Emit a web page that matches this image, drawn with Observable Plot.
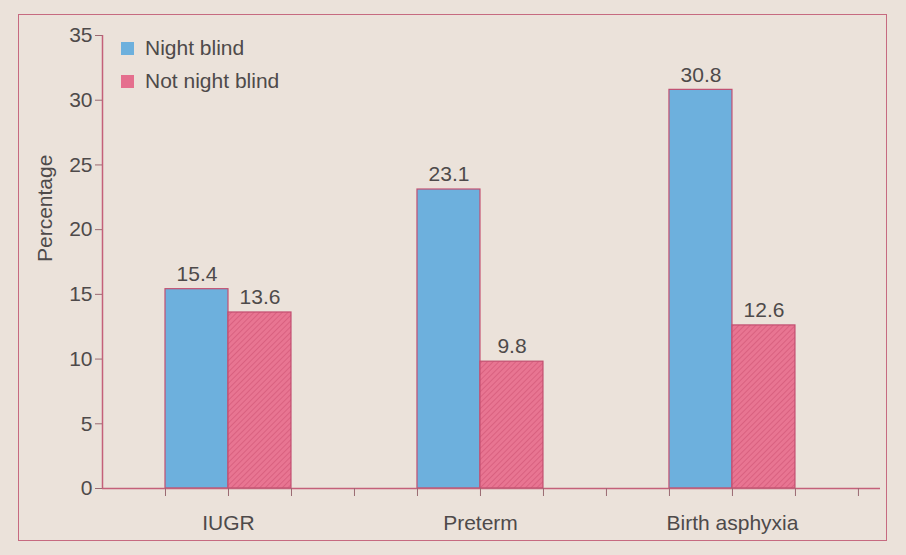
<!DOCTYPE html>
<html><head><meta charset="utf-8">
<script src="https://cdn.jsdelivr.net/npm/d3@7"></script>
<script src="https://cdn.jsdelivr.net/npm/@observablehq/plot@0.6"></script>
<style>
body{margin:0;background:#ebe2da;font-family:"Liberation Sans",Arial,sans-serif;}
#wrap{position:relative;width:906px;height:555px;overflow:hidden;}
#frame{position:absolute;left:18px;top:14px;width:869px;height:527px;border:1.5px solid #c66a80;box-sizing:border-box;pointer-events:none;}
#legend{position:absolute;left:121px;top:31px;font-size:21px;color:#4e4a4a;line-height:33px;}
#legend .sw{display:inline-block;width:13px;height:13px;margin-right:11px;vertical-align:0px;}
svg{position:absolute;left:0;top:0;background:transparent;}
</style></head>
<body><div id="wrap"><div id="frame"></div></div>
<script>
const categories = ["IUGR", "Preterm", "Birth asphyxia"];
const series = ["Night blind", "Not night blind"];
const nightBlind = [15.4, 23.1, 30.8];
const notNightBlind = [13.6, 9.8, 12.6];
const yTicks = [0, 5, 10, 15, 20, 25, 30, 35];
const xSlotTicks = [1, 2, 3, 4, 5, 6, 7, 8, 9, 10, 11, 12];

const colors = {"Night blind": "#6db0dd", "Not night blind": "url(#hatch)"};
const swatch = {"Night blind": "#6db0dd", "Not night blind": "#e56f8e"};

const rows = [];
categories.forEach((c, i) => {
  rows.push({cat: c, series: series[0], value: nightBlind[i], slot: 1 + 4 * i});
  rows.push({cat: c, series: series[1], value: notNightBlind[i], slot: 2 + 4 * i});
});

const axisColor = "#c4607a";
const textColor = "#4e4a4a";

const chart = Plot.plot({
  width: 906, height: 555,
  marginLeft: 102, marginRight: 26, marginTop: 35, marginBottom: 67,
  style: {background: "transparent", fontFamily: "'Liberation Sans', Arial, sans-serif"},
  x: {domain: [0, 12.35], axis: null},
  y: {domain: [0, 35], axis: null},
  marks: [
    Plot.rectY(rows, {x1: "slot", x2: d => d.slot + 1, y1: 0, y2: "value",
      fill: d => colors[d.series], stroke: "#c24f70", strokeWidth: 1.2}),
    Plot.text(rows, {x: d => d.slot + 0.5, y: "value", text: d => d.value.toFixed(1),
      dy: -15, fontSize: 21, fill: textColor}),
    Plot.ruleY([0], {stroke: axisColor, strokeWidth: 1.5}),
    Plot.ruleX([0], {stroke: axisColor, strokeWidth: 1.5}),
    Plot.axisX(xSlotTicks, {tickSize: 8, tickFormat: () => "", stroke: "#9a6a72", label: null}),
    Plot.axisY(yTicks, {tickSize: 7, tickPadding: 3, stroke: "#9a6a72", fill: textColor, fontSize: 21, label: null}),
    Plot.text(categories, {x: (d, i) => 2 + 4 * i, y: 0, text: d => d, dy: 35, fontSize: 21, fill: textColor}),
    Plot.text(["Percentage"], {frameAnchor: "left", text: d => d, rotate: -90, dx: -57, fontSize: 21, fill: textColor})
  ]
});

const svg = d3.select(chart.tagName === "svg" ? chart : chart.querySelector("svg"));
const pat = svg.insert("defs", ":first-child").append("pattern")
  .attr("id", "hatch").attr("patternUnits", "userSpaceOnUse")
  .attr("width", 4).attr("height", 4).attr("patternTransform", "rotate(45)");
pat.append("rect").attr("width", 4).attr("height", 4).attr("fill", "#e87592");
pat.append("line").attr("x1", 0).attr("y1", 0).attr("x2", 0).attr("y2", 4)
  .attr("stroke", "#cf5474").attr("stroke-width", 1.2);

const wrap = document.getElementById("wrap");
wrap.insertBefore(chart, wrap.firstChild);

const legend = document.createElement("div");
legend.id = "legend";
legend.innerHTML = series.map(s => `<div><span class="sw" style="background:${swatch[s]}"></span>${s}</div>`).join("");
wrap.appendChild(legend);
</script>
</body></html>
